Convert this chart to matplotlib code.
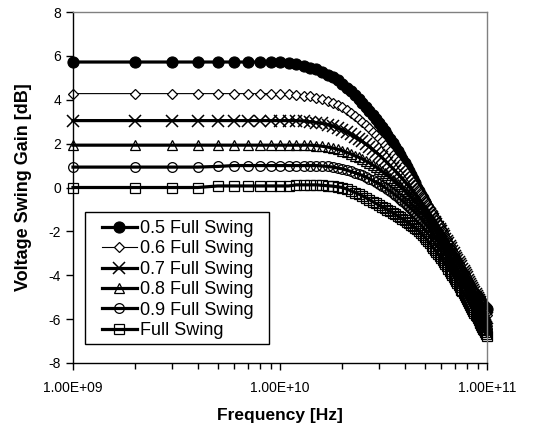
import matplotlib
matplotlib.use("Agg")
import matplotlib.pyplot as plt
from matplotlib.patches import Rectangle
from matplotlib.ticker import FixedLocator, NullFormatter

plt.rcParams['font.family'] = ['Liberation Sans', 'DejaVu Sans']
plt.rcParams['axes.unicode_minus'] = False

# Frequency in GHz (1 GHz steps from 1 to 100 GHz)
freq_ghz = list(range(1, 101))

gain_05 = [5.72]*9 + [
    5.70, 5.66, 5.61, 5.54, 5.47, 5.38, 5.27, 5.15, 5.02, 4.88,
    4.72, 4.55, 4.38, 4.20, 4.03, 3.85, 3.67, 3.49, 3.31, 3.13,
    2.95, 2.77, 2.59, 2.41, 2.23, 2.05, 1.86, 1.68, 1.49, 1.31,
    1.12, 0.93, 0.75, 0.56, 0.37, 0.19, 0.00, -0.17, -0.33, -0.49,
    -0.65, -0.80, -0.95, -1.10, -1.25, -1.40, -1.54, -1.68, -1.82, -1.96,
    -2.10, -2.24, -2.38, -2.52, -2.66, -2.80, -2.94, -3.07, -3.20, -3.31,
    -3.41, -3.51, -3.61, -3.71, -3.81, -3.90, -3.98, -4.06, -4.14, -4.22,
    -4.30, -4.38, -4.46, -4.54, -4.62, -4.70, -4.76, -4.82, -4.88, -4.94,
    -5.00, -5.06, -5.12, -5.18, -5.24, -5.30, -5.35, -5.40, -5.45, -5.50,
    -5.55]

gain_06 = [4.28]*10 + [
    4.25, 4.22, 4.19, 4.15, 4.09, 4.02, 3.94, 3.85, 3.75, 3.65,
    3.52, 3.39, 3.26, 3.13, 3.00, 2.85, 2.70, 2.55, 2.40, 2.25,
    2.10, 1.95, 1.80, 1.65, 1.50, 1.36, 1.22, 1.08, 0.94, 0.80,
    0.66, 0.52, 0.38, 0.24, 0.10, -0.03, -0.16, -0.29, -0.42, -0.55,
    -0.68, -0.81, -0.94, -1.07, -1.20, -1.33, -1.46, -1.59, -1.72, -1.85,
    -1.98, -2.11, -2.24, -2.37, -2.50, -2.62, -2.74, -2.86, -2.98, -3.10,
    -3.21, -3.32, -3.43, -3.54, -3.65, -3.75, -3.85, -3.95, -4.05, -4.15,
    -4.24, -4.33, -4.42, -4.51, -4.60, -4.69, -4.78, -4.87, -4.96, -5.05,
    -5.13, -5.21, -5.29, -5.37, -5.45, -5.52, -5.59, -5.66, -5.73, -5.80]

gain_07 = [3.05]*12 + [
    3.03, 3.00, 2.96, 2.92, 2.87, 2.80, 2.71, 2.62,
    2.52, 2.42, 2.31, 2.21, 2.10, 1.98, 1.86, 1.74, 1.62, 1.50,
    1.38, 1.25, 1.13, 1.00, 0.88, 0.76, 0.64, 0.52, 0.40, 0.28,
    0.16, 0.05, -0.07, -0.18, -0.30, -0.42, -0.53, -0.65, -0.76, -0.88,
    -0.99, -1.11, -1.22, -1.34, -1.45, -1.56, -1.67, -1.78, -1.89, -2.00,
    -2.11, -2.22, -2.33, -2.44, -2.55, -2.66, -2.77, -2.88, -2.99, -3.10,
    -3.20, -3.30, -3.40, -3.50, -3.60, -3.70, -3.80, -3.90, -4.00, -4.10,
    -4.20, -4.30, -4.40, -4.50, -4.60, -4.69, -4.78, -4.87, -4.96, -5.05,
    -5.14, -5.23, -5.32, -5.41, -5.50, -5.59, -5.68, -5.77, -5.86, -5.95]

gain_08 = [1.93]*14 + [
    1.91, 1.88, 1.84, 1.80, 1.74, 1.68,
    1.60, 1.53, 1.45, 1.38, 1.30, 1.21, 1.12, 1.03, 0.94, 0.85,
    0.75, 0.65, 0.55, 0.45, 0.35, 0.25, 0.15, 0.05, -0.05, -0.15,
    -0.25, -0.35, -0.45, -0.55, -0.65, -0.75, -0.85, -0.95, -1.05, -1.15,
    -1.25, -1.35, -1.45, -1.55, -1.65, -1.75, -1.85, -1.95, -2.05, -2.15,
    -2.25, -2.35, -2.45, -2.55, -2.65, -2.75, -2.85, -2.95, -3.05, -3.15,
    -3.25, -3.35, -3.45, -3.55, -3.65, -3.75, -3.85, -3.95, -4.05, -4.15,
    -4.25, -4.35, -4.45, -4.55, -4.65, -4.75, -4.85, -4.95, -5.05, -5.15,
    -5.24, -5.33, -5.42, -5.51, -5.60, -5.70, -5.80, -5.90, -6.00, -6.10]

gain_09 = [0.93]*4 + [0.96] + [1.00]*10 + [
    0.98, 0.96, 0.93, 0.89, 0.85,
    0.79, 0.73, 0.67, 0.61, 0.55, 0.48, 0.40, 0.33, 0.25, 0.18,
    0.09, 0.01, -0.08, -0.16, -0.25, -0.34, -0.43, -0.52, -0.61, -0.70,
    -0.79, -0.88, -0.97, -1.06, -1.15, -1.24, -1.34, -1.43, -1.53, -1.62,
    -1.72, -1.82, -1.92, -2.02, -2.12, -2.22, -2.32, -2.42, -2.52, -2.62,
    -2.72, -2.82, -2.92, -3.02, -3.12, -3.22, -3.32, -3.42, -3.52, -3.62,
    -3.72, -3.82, -3.92, -4.02, -4.12, -4.22, -4.32, -4.42, -4.52, -4.62,
    -4.72, -4.82, -4.92, -5.02, -5.12, -5.22, -5.32, -5.42, -5.52, -5.62,
    -5.71, -5.80, -5.88, -5.97, -6.05, -6.13, -6.21, -6.29, -6.37, -6.45]

gain_10 = [0.00]*4 + [0.07]*7 + [0.12]*4 + [
    0.10, 0.08, 0.06, 0.03, 0.00,
    -0.07, -0.15, -0.23, -0.30, -0.38, -0.47, -0.55, -0.64, -0.72, -0.80,
    -0.87, -0.94, -1.01, -1.08, -1.15, -1.22, -1.29, -1.36, -1.43, -1.50,
    -1.57, -1.63, -1.70, -1.77, -1.83, -1.90, -1.99, -2.07, -2.16, -2.25,
    -2.35, -2.45, -2.55, -2.65, -2.75, -2.84, -2.93, -3.02, -3.11, -3.20,
    -3.30, -3.40, -3.50, -3.60, -3.70, -3.79, -3.88, -3.97, -4.06, -4.15,
    -4.25, -4.35, -4.45, -4.55, -4.65, -4.74, -4.83, -4.92, -5.01, -5.10,
    -5.19, -5.28, -5.37, -5.46, -5.55, -5.63, -5.71, -5.79, -5.87, -5.95,
    -6.03, -6.11, -6.19, -6.27, -6.35, -6.43, -6.51, -6.59, -6.67, -6.75]

labels = ["0.5 Full Swing", "0.6 Full Swing", "0.7 Full Swing",
          "0.8 Full Swing", "0.9 Full Swing", "Full Swing"]
series = [gain_05, gain_06, gain_07, gain_08, gain_09, gain_10]
x_tick_labels = ["1.00E+09", "1.00E+10", "1.00E+11"]
y_ticks = [-8, -6, -4, -2, 0, 2, 4, 6, 8]

styles = [
    dict(marker='o', ms=8.0, mfc='black', lw=2.3, mew=0.8),
    dict(marker='D', ms=5.0, mfc='white', lw=0.8, mew=0.9),
    dict(marker='x', ms=8.0, mfc='none', lw=2.3, mew=1.1),
    dict(marker='^', ms=7.0, mfc='none', lw=2.3, mew=0.9),
    dict(marker='o', ms=7.0, mfc='none', lw=2.3, mew=0.9),
    dict(marker='s', ms=6.5, mfc='none', lw=2.3, mew=0.9),
]

fig = plt.figure(figsize=(5.52, 4.25), dpi=100)
ax = fig.add_axes([73/552, 1-363/425, (487-73)/552, (363-12)/425])

freq_hz = [f * 1e9 for f in freq_ghz]
for vals, lab, st in zip(series, labels, styles):
    ax.plot(freq_hz, vals, color='black', mec='black',
            mew=st['mew'], marker=st['marker'], ms=st['ms'],
            mfc=st['mfc'], lw=st['lw'], label=lab, clip_on=False)

ax.set_xscale('log')
ax.set_xlim(1e9, 1e11)
ax.set_ylim(-8, 8)
ax.set_yticks(y_ticks)
ax.set_yticklabels([str(v) for v in y_ticks])
ax.xaxis.set_major_locator(FixedLocator([1e9, 1e10, 1e11]))
ax.set_xticklabels(x_tick_labels)
ax.xaxis.set_minor_locator(FixedLocator([k * 10**e for e in (9, 10) for k in range(2, 10)]))
ax.xaxis.set_minor_formatter(NullFormatter())

ax.tick_params(axis='both', which='major', direction='out', length=5,
               width=1, labelsize=10, color='black')
ax.tick_params(axis='x', which='minor', direction='out', length=4, width=1)
ax.tick_params(axis='x', pad=8)

for s in ('top', 'right'):
    ax.spines[s].set_color('#808080')
    ax.spines[s].set_linewidth(1)
for s in ('left', 'bottom'):
    ax.spines[s].set_color('black')
    ax.spines[s].set_linewidth(1)

ax.set_xlabel("Frequency [Hz]", fontsize=12.5, fontweight='bold', labelpad=9)
ax.set_ylabel("Voltage Swing Gain [dB]", fontsize=13, fontweight='bold', labelpad=12)

# legend frame (drawn separately to get Excel-like padding)
frame = Rectangle((12/414, 19/351), 184/414, 132/351, transform=ax.transAxes,
                  facecolor='white', edgecolor='black', lw=1.0, zorder=4.9)
ax.add_patch(frame)
leg = ax.legend(loc='upper left', bbox_to_anchor=((101.5-73)/414, (363-220)/351),
                fontsize=13, frameon=False,
                handlelength=1.95, handletextpad=0.2, labelspacing=0.19,
                borderpad=0.0, borderaxespad=0.0)
leg.set_zorder(5)

fig.savefig("out.png", dpi=100)
